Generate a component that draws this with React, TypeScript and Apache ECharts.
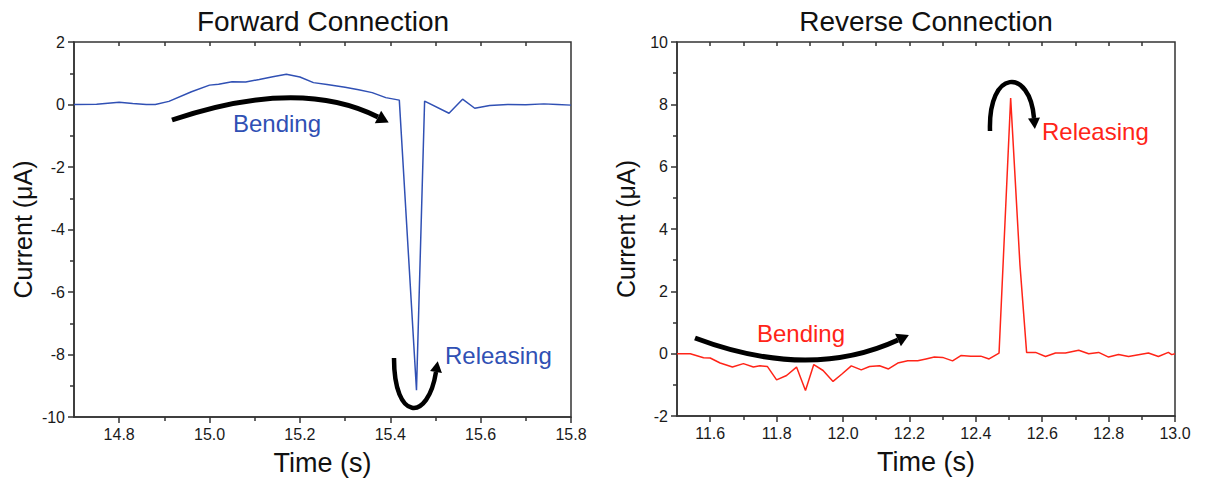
import { useEffect, useRef } from "react";
import * as echarts from "echarts";

// Forward connection (left panel)
const fwdTime = [14.70, 14.75, 14.80, 14.83, 14.86, 14.88, 14.91, 14.96, 15.00, 15.02, 15.05, 15.08, 15.11, 15.14, 15.17, 15.20, 15.23, 15.26, 15.30, 15.33, 15.36, 15.39, 15.42, 15.458, 15.476, 15.53, 15.56, 15.587, 15.62, 15.66, 15.70, 15.74, 15.77, 15.80];
const fwdCurrent = [0.0, 0.01, 0.07, 0.03, 0.0, 0.0, 0.1, 0.41, 0.62, 0.65, 0.73, 0.72, 0.8, 0.89, 0.97, 0.88, 0.70, 0.64, 0.55, 0.47, 0.38, 0.22, 0.14, -9.14, 0.11, -0.28, 0.17, -0.12, -0.03, 0.0, -0.01, 0.02, 0.0, -0.02];

// Reverse connection (right panel)
const revTime = [11.50, 11.54, 11.58, 11.60, 11.63, 11.667, 11.70, 11.73, 11.75, 11.772, 11.80, 11.83, 11.86, 11.887, 11.912, 11.94, 11.97, 11.996, 12.025, 12.055, 12.08, 12.11, 12.137, 12.165, 12.195, 12.225, 12.25, 12.275, 12.30, 12.33, 12.355, 12.385, 12.415, 12.44, 12.47, 12.505, 12.533, 12.553, 12.58, 12.61, 12.64, 12.67, 12.71, 12.74, 12.77, 12.80, 12.83, 12.86, 12.92, 12.95, 12.98, 12.99, 13.00];
const revCurrent = [0.0, 0.0, -0.13, -0.14, -0.3, -0.43, -0.32, -0.43, -0.39, -0.41, -0.84, -0.70, -0.43, -1.18, -0.35, -0.54, -0.89, -0.66, -0.39, -0.52, -0.41, -0.39, -0.49, -0.3, -0.23, -0.23, -0.17, -0.11, -0.12, -0.23, -0.06, -0.08, -0.08, -0.17, 0.02, 8.2, 2.85, 0.04, 0.04, -0.09, 0.02, 0.02, 0.11, 0.0, 0.04, -0.11, -0.03, -0.09, 0.02, -0.09, 0.04, -0.03, 0.0];

const fwdXLabels = [14.8, 15.0, 15.2, 15.4, 15.6, 15.8];
const fwdXMinor = [14.9, 15.1, 15.3, 15.5, 15.7];
const revXLabels = [11.6, 11.8, 12.0, 12.2, 12.4, 12.6, 12.8, 13.0];
const revXMinor = [11.7, 11.9, 12.1, 12.3, 12.5, 12.7, 12.9];

const titles = ["Forward Connection", "Reverse Connection"];
const xName = "Time (s)";
const yName = "Current (μA)";

const FONT = "'Liberation Sans', Arial, Helvetica, sans-serif";
const AXIS = "#333";
const BLUE = "#3050b4";
const RED = "#ff2418";

function arrowHead(end: number[], ctrl: number[], len: number, half: number) {
  const dx = end[0] - ctrl[0];
  const dy = end[1] - ctrl[1];
  const d = Math.hypot(dx, dy);
  const ux = dx / d, uy = dy / d;
  const px = -uy, py = ux;
  return [
    [end[0] + ux * len, end[1] + uy * len],
    [end[0] + px * half, end[1] + py * half],
    [end[0] - px * half, end[1] - py * half],
  ];
}

function curveArrow(p0: number[], c1: number[], c2: number[] | null, p1: number[], w: number, len: number, half: number) {
  const shape: any = { x1: p0[0], y1: p0[1], x2: p1[0], y2: p1[1], cpx1: c1[0], cpy1: c1[1] };
  if (c2) { shape.cpx2 = c2[0]; shape.cpy2 = c2[1]; }
  const lastCtrl = c2 || c1;
  return [
    { type: "bezierCurve", shape, style: { stroke: "#000", lineWidth: w, fill: null, lineCap: "butt" }, silent: true },
    { type: "polygon", shape: { points: arrowHead(p1, lastCtrl, len, half) }, style: { fill: "#000" }, silent: true },
  ];
}

function xAxes(grid: number, min: number, max: number, labels: number[], minor: number[]) {
  const lineStyle = { color: AXIS, width: 1.5 };
  return [
    {
      gridIndex: grid, type: "value", min, max, position: "bottom",
      axisLine: { show: true, onZero: false, lineStyle },
      axisTick: { show: true, customValues: labels, length: 6, lineStyle },
      axisLabel: { customValues: labels, formatter: (v: number) => v.toFixed(1), fontSize: 16, color: "#1a1a1a", margin: 9, fontFamily: FONT },
      splitLine: { show: false },
      name: xName, nameLocation: "middle", nameGap: 32,
      nameTextStyle: { fontSize: 27, color: "#111", fontFamily: FONT },
    },
    {
      gridIndex: grid, type: "value", min, max, position: "bottom",
      axisLine: { show: false, onZero: false },
      axisTick: { show: true, customValues: minor, length: 4, lineStyle },
      axisLabel: { show: false },
      splitLine: { show: false },
    },
    {
      gridIndex: grid, type: "value", min, max, position: "top",
      axisLine: { show: false, onZero: false },
      axisTick: { show: true, inside: true, customValues: [...labels, ...minor].filter((v) => v > min && v < max), length: 4, lineStyle },
      axisLabel: { show: false },
      splitLine: { show: false },
    },
  ];
}

function yAxis(grid: number, min: number, max: number) {
  const lineStyle = { color: AXIS, width: 1.5 };
  return {
    gridIndex: grid, type: "value", min, max, interval: 2,
    axisLine: { show: true, onZero: false, lineStyle },
    axisTick: { show: true, length: 6, lineStyle },
    minorTick: { show: true, splitNumber: 2, length: 4, lineStyle },
    axisLabel: { fontSize: 16, color: "#1a1a1a", margin: 9, fontFamily: FONT },
    splitLine: { show: false },
    minorSplitLine: { show: false },
    name: yName, nameLocation: "middle", nameGap: 39, nameRotate: 90,
    nameTextStyle: { fontSize: 25, color: "#111", fontFamily: FONT },
  };
}

export default function App() {
  const ref = useRef<HTMLDivElement>(null);
  useEffect(() => {
    if (!ref.current) return;
    const chart = echarts.init(ref.current, undefined, { renderer: "svg" });
    const gridStyle = { show: true, borderColor: AXIS, borderWidth: 1.5, backgroundColor: "transparent", containLabel: false };
    const option: any = {
      animation: false,
      backgroundColor: "#fff",
      textStyle: { fontFamily: FONT },
      grid: [
        { ...gridStyle, left: 74, top: 42, width: 497, height: 375 },
        { ...gridStyle, left: 677, top: 42, width: 498, height: 374 },
      ],
      xAxis: [
        ...xAxes(0, 14.7, 15.8, fwdXLabels, fwdXMinor),
        ...xAxes(1, 11.5, 13.0, revXLabels, revXMinor),
      ],
      yAxis: [yAxis(0, -10, 2), yAxis(1, -2, 10)],
      series: [
        {
          type: "line", xAxisIndex: 0, yAxisIndex: 0, showSymbol: false, symbol: "none",
          data: fwdTime.map((t, i) => [t, fwdCurrent[i]]),
          lineStyle: { color: BLUE, width: 1.5 }, itemStyle: { color: BLUE },
        },
        {
          type: "line", xAxisIndex: 3, yAxisIndex: 1, showSymbol: false, symbol: "none",
          data: revTime.map((t, i) => [t, revCurrent[i]]),
          lineStyle: { color: RED, width: 1.5 }, itemStyle: { color: RED },
        },
      ],
      graphic: [
        { type: "text", x: 323, y: 21, style: { text: titles[0], fill: "#111", font: `28px ${FONT}`, textAlign: "center", textVerticalAlign: "middle" } },
        { type: "text", x: 926, y: 21, style: { text: titles[1], fill: "#111", font: `28px ${FONT}`, textAlign: "center", textVerticalAlign: "middle" } },
        { type: "text", x: 277, y: 123, style: { text: "Bending", fill: BLUE, font: `24px ${FONT}`, textAlign: "center", textVerticalAlign: "middle" } },
        { type: "text", x: 445, y: 355, style: { text: "Releasing", fill: BLUE, font: `24px ${FONT}`, textAlign: "left", textVerticalAlign: "middle" } },
        { type: "text", x: 801, y: 333, style: { text: "Bending", fill: RED, font: `24px ${FONT}`, textAlign: "center", textVerticalAlign: "middle" } },
        { type: "text", x: 1042, y: 131, style: { text: "Releasing", fill: RED, font: `24px ${FONT}`, textAlign: "left", textVerticalAlign: "middle" } },
        ...curveArrow([172, 120], [299, 77], null, [378, 117], 5, 12, 7),
        ...curveArrow([394, 358], [394, 422], [428, 422], [436, 372], 4.5, 11, 6),
        ...curveArrow([695, 338], [809, 381], null, [898, 340], 5, 12, 7),
        ...curveArrow([990, 131], [988, 68], [1030, 68], [1034, 118], 4.5, 11, 6),
      ],
    };
    chart.setOption(option);
    return () => chart.dispose();
  }, []);
  return <div ref={ref} style={{ position: "fixed", left: 0, top: 0, width: 1208, height: 482, background: "#fff" }} />;
}
